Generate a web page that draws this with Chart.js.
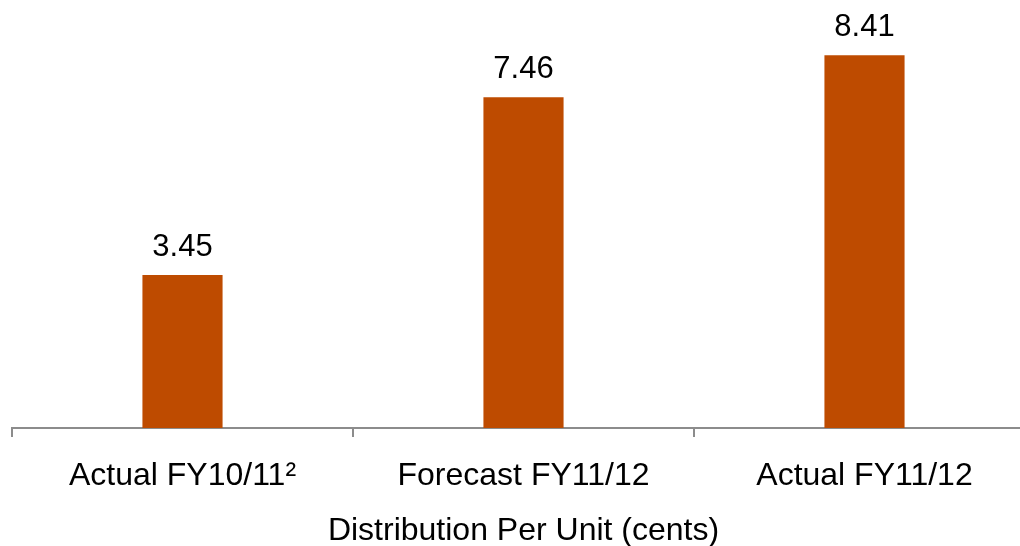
<!DOCTYPE html>
<html>
<head>
<meta charset="utf-8">
<script src="https://cdn.jsdelivr.net/npm/chart.js@4.4.0/dist/chart.umd.min.js"></script>
<style>
    html, body { margin: 0; padding: 0; background: #fff; overflow: hidden; }
    #wrap { width: 1040px; height: 546px; position: relative; }
</style>
</head>
<body>
<div id="wrap"><canvas id="dpuChart"></canvas></div>
<script>
    // Chart data
    const categories = ['Actual FY10/11\u00b2', 'Forecast FY11/12', 'Actual FY11/12'];
    const dpuValues = [3.45, 7.46, 8.41];
    const axisTitle = 'Distribution Per Unit (cents)';

    const barColor = '#be4b00';
    const axisColor = '#8c8c8c';
    const fontFamily = 'Arial, "Liberation Sans", sans-serif';

    // Simple plugin to write the value above each bar
    const valueLabels = {
        id: 'valueLabels',
        afterDatasetsDraw(chart) {
            const ctx = chart.ctx;
            const meta = chart.getDatasetMeta(0);
            ctx.save();
            ctx.font = '31px ' + fontFamily;
            ctx.fillStyle = '#000';
            ctx.textAlign = 'center';
            ctx.textBaseline = 'alphabetic';
            meta.data.forEach((bar, i) => {
                ctx.fillText(dpuValues[i].toFixed(2), bar.x, bar.y - 19);
            });
            ctx.restore();
        }
    };

    const ctx = document.getElementById('dpuChart').getContext('2d');
    new Chart(ctx, {
        type: 'bar',
        data: {
            labels: categories,
            datasets: [{
                data: dpuValues,
                backgroundColor: barColor,
                borderWidth: 0,
                categoryPercentage: 1,
                barPercentage: 0.235
            }]
        },
        options: {
            responsive: true,
            maintainAspectRatio: false,
            animation: false,
            layout: {
                padding: { left: 12, right: 5, top: 29, bottom: -1 }
            },
            plugins: {
                legend: { display: false },
                tooltip: { enabled: false }
            },
            scales: {
                y: {
                    display: false,
                    min: 0,
                    max: 9
                },
                x: {
                    grid: {
                        offset: true,
                        drawOnChartArea: false,
                        drawTicks: true,
                        tickLength: 9,
                        lineWidth: 2,
                        color: axisColor
                    },
                    border: { color: axisColor, width: 2 },
                    ticks: {
                        color: '#000',
                        padding: 23,
                        font: { family: fontFamily, size: 32, lineHeight: 1 }
                    },
                    title: {
                        display: true,
                        text: axisTitle,
                        color: '#000',
                        padding: { top: 0, bottom: 0 },
                        font: { family: fontFamily, size: 32, lineHeight: 1 }
                    }
                }
            }
        },
        plugins: [valueLabels]
    });
</script>
</body>
</html>
